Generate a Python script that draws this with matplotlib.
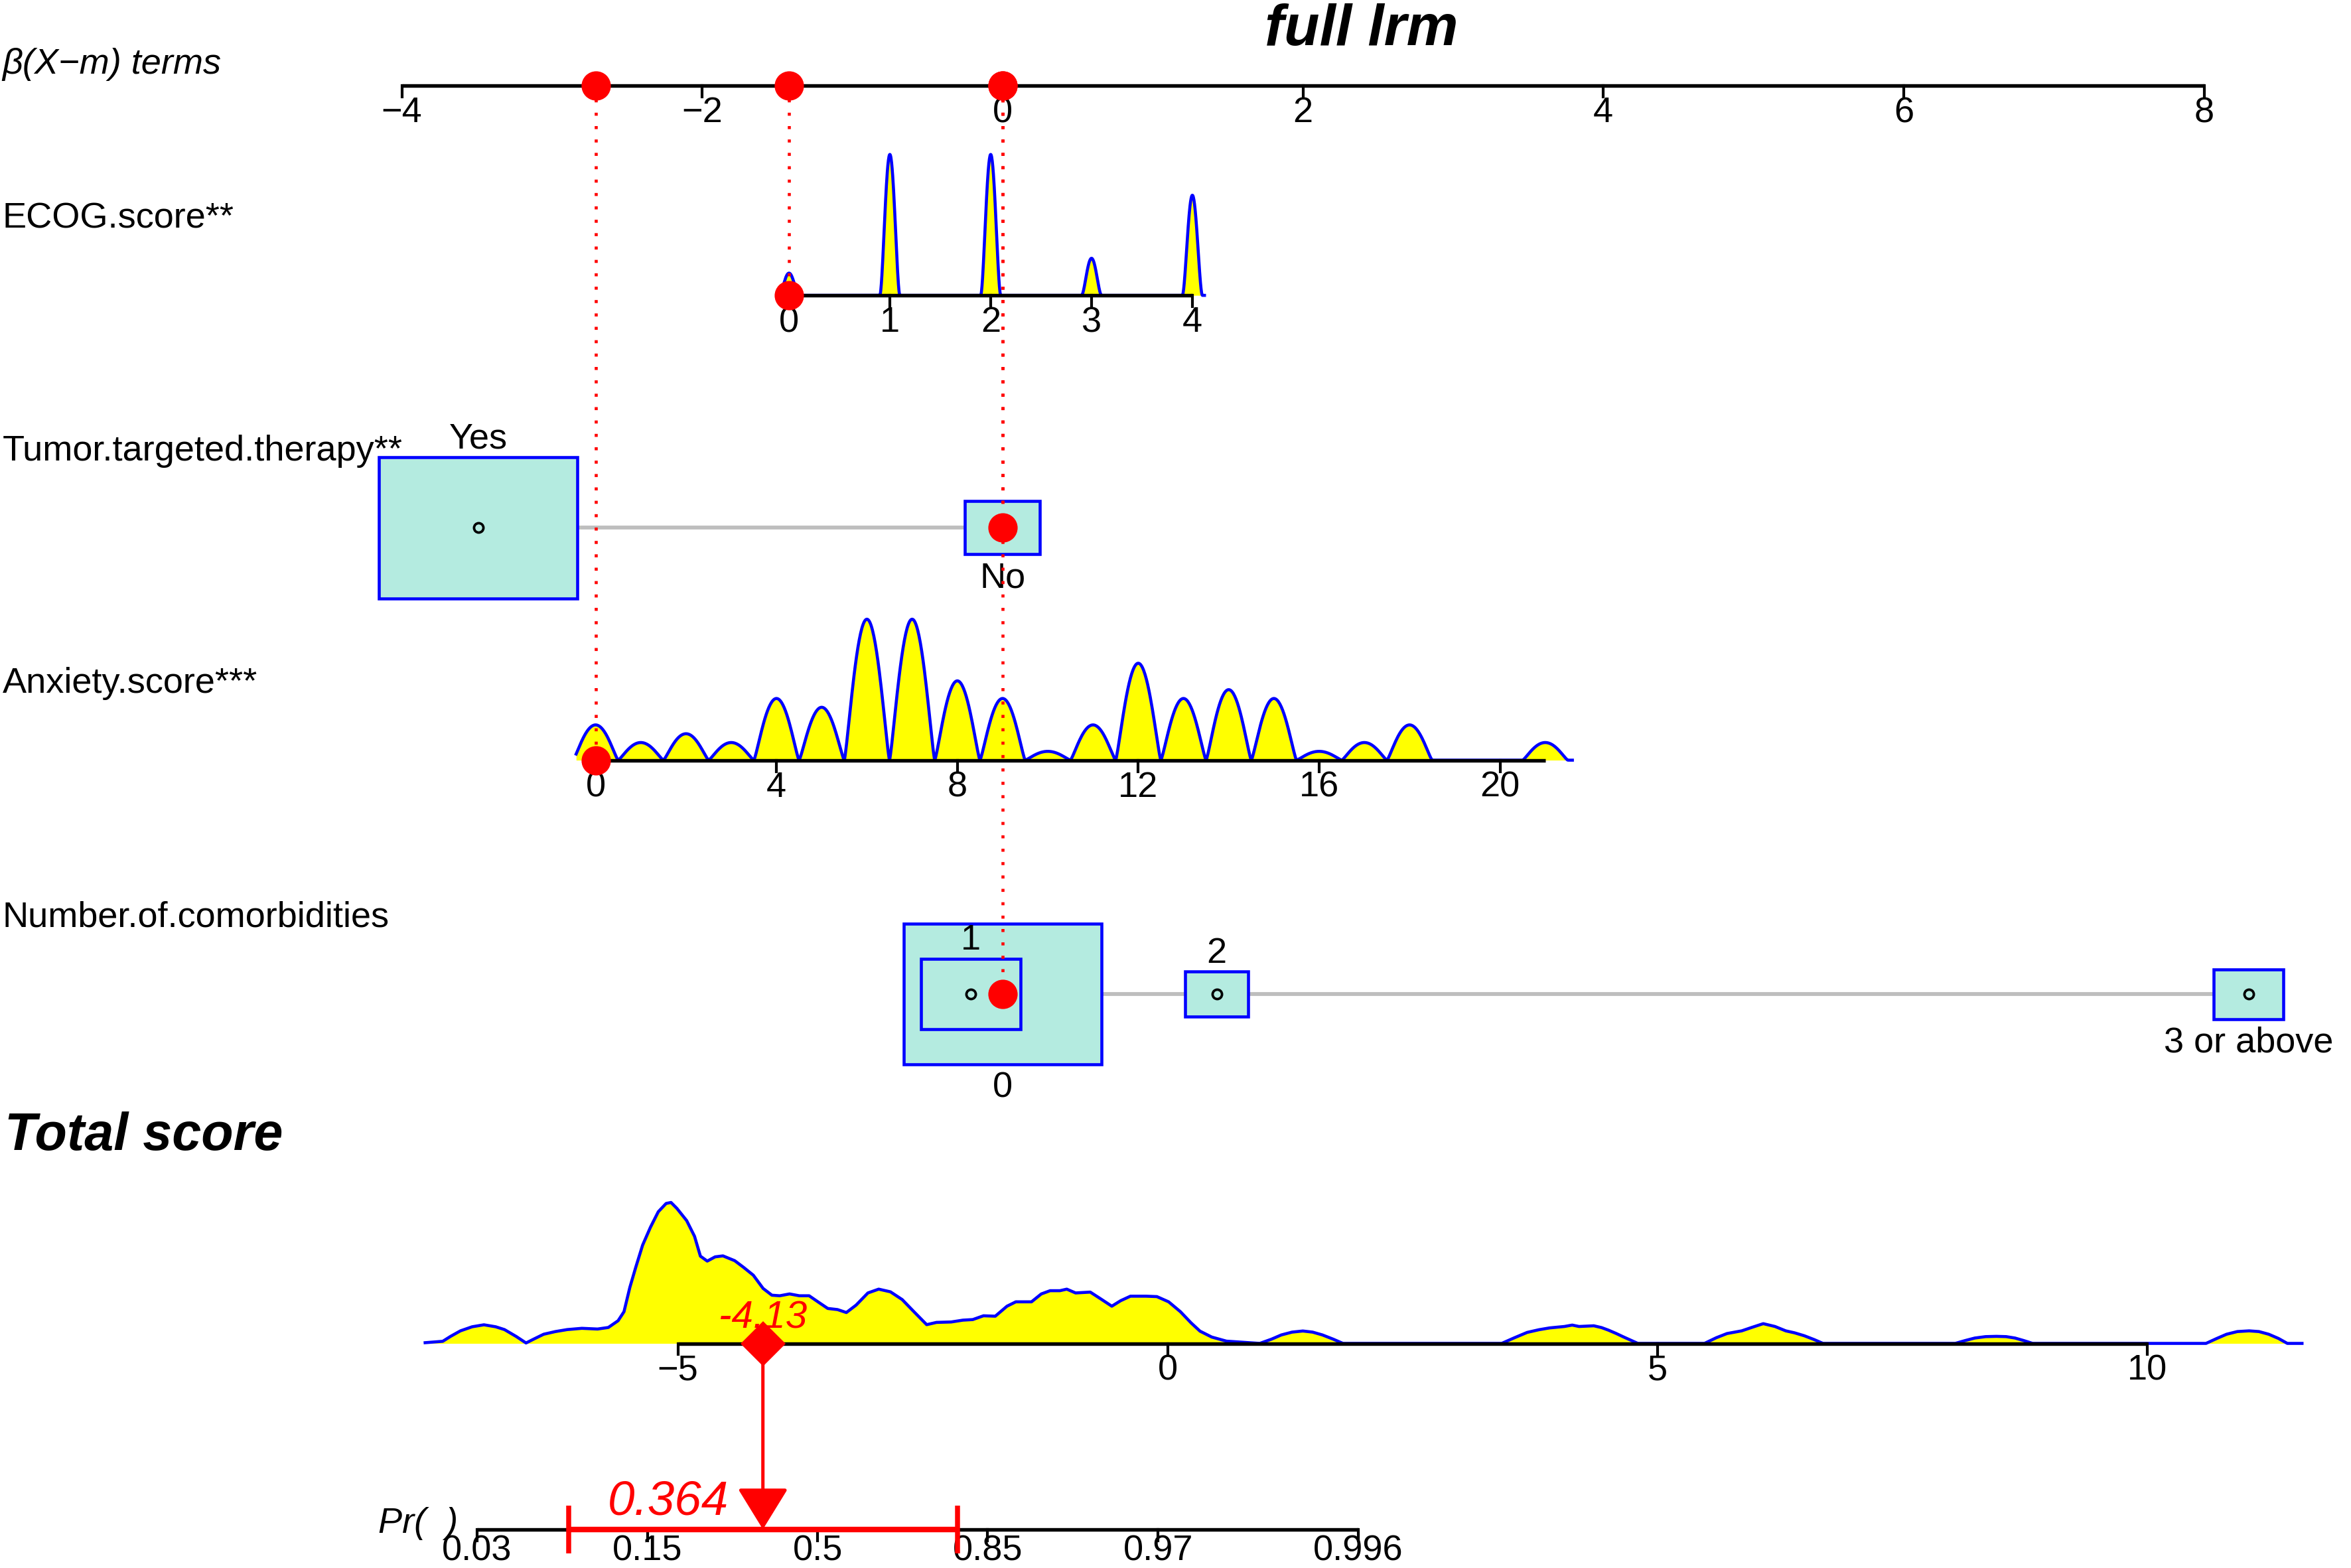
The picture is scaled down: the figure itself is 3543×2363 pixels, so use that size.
import numpy as np
import matplotlib
matplotlib.use("Agg")
import matplotlib.pyplot as plt
from matplotlib.patches import Rectangle
from matplotlib.transforms import blended_transform_factory

plt.rcParams['font.family'] = ['Liberation Sans', 'DejaVu Sans']

beta_ticks = [-4, -2, 0, 2, 4, 6, 8]

# ECOG.score (continua): beta = ecog_b0 + ecog_coef * valor
ecog_values = [0, 1, 2, 3, 4]
ecog_counts = [6, 38, 38, 10, 27]
ecog_b0 = -1.422
ecog_coef = 0.6714
ecog_patient = 0

# Tumor.targeted.therapy (categorica)
tumor_levels = ['Yes', 'No']
tumor_beta = [-3.491, 0.0]
tumor_counts = [105, 15]
tumor_label_pos = ['above', 'below']
tumor_patient = 'No'

# Anxiety.score (continua)
anx_values = list(range(22))
anx_counts = [4, 2, 3, 2, 7, 6, 16, 16, 9, 7, 1, 4, 11, 7, 8, 7, 1, 2, 4, 0, 0, 2]
anx_ticks = [0, 4, 8, 12, 16, 20]
anx_b0 = -2.710
anx_coef = 0.3011
anx_patient = 0

# Number.of.comorbidities (categorica)
comorb_levels = ['0', '1', '2', '3 or above']
comorb_beta = [0.0, -0.211, 1.426, 8.296]
comorb_counts = [80, 20, 8, 10]
comorb_label_pos = ['below', 'above', 'above', 'below']
comorb_patient = '0'

# Total score: densidad (relativa al maximo)
total_ticks = [-5, 0, 5, 10]
total_x = [-7.58, -7.40, -7.32, -7.22, -7.10, -6.98, -6.86, -6.77, -6.65, -6.55,
           -6.47, -6.37, -6.25, -6.13, -5.98, -5.82, -5.71, -5.61, -5.55, -5.49,
           -5.43, -5.36, -5.28, -5.20, -5.12, -5.07, -5.01, -4.91, -4.83, -4.77,
           -4.70, -4.62, -4.54, -4.42, -4.33, -4.23, -4.13, -4.04, -3.96, -3.86,
           -3.76, -3.66, -3.57, -3.47, -3.37, -3.28, -3.18, -3.06, -2.95, -2.83,
           -2.71, -2.60, -2.46, -2.36, -2.21, -2.09, -1.99, -1.88, -1.76, -1.64,
           -1.55, -1.39, -1.29, -1.20, -1.10, -1.03, -0.94, -0.79, -0.69, -0.57,
           -0.48, -0.38, -0.22, -0.11, 0.01, 0.13, 0.24, 0.33, 0.45, 0.60, 0.94,
           1.06, 1.16, 1.27, 1.38, 1.48, 1.58, 1.69, 1.79,
           3.41, 3.54, 3.67, 3.79, 3.90, 4.05, 4.13, 4.20, 4.35, 4.43, 4.50, 4.58,
           4.65, 4.73, 4.80,
           5.48, 5.60, 5.71, 5.86, 5.97, 6.08, 6.20, 6.31, 6.40, 6.50, 6.60, 6.69,
           8.04, 8.14, 8.24, 8.35, 8.46, 8.56, 8.65, 8.74, 8.83,
           10.60, 10.71, 10.81, 10.92, 11.04, 11.14, 11.24, 11.34, 11.43, 11.58]
total_dens = [0.005, 0.015, 0.05, 0.089, 0.118, 0.132, 0.118, 0.098, 0.049, 0.003,
              0.031, 0.065, 0.084, 0.098, 0.107, 0.102, 0.113, 0.161, 0.225, 0.398,
              0.540, 0.697, 0.824, 0.934, 0.993, 1.0, 0.958, 0.871, 0.760, 0.619,
              0.584, 0.614, 0.621, 0.587, 0.540, 0.484, 0.390, 0.342, 0.338, 0.351,
              0.338, 0.338, 0.295, 0.248, 0.240, 0.219, 0.272, 0.358, 0.385, 0.366,
              0.311, 0.232, 0.133, 0.149, 0.152, 0.165, 0.169, 0.196, 0.193, 0.264,
              0.295, 0.295, 0.351, 0.374, 0.374, 0.385, 0.358, 0.364, 0.319, 0.264,
              0.303, 0.335, 0.335, 0.332, 0.295, 0.225, 0.145, 0.087, 0.045, 0.016, 0.0,
              0.03, 0.06, 0.08, 0.088, 0.08, 0.06, 0.03, 0.0,
              0.0, 0.04, 0.078, 0.097, 0.11, 0.12, 0.13, 0.12, 0.125, 0.112, 0.094, 0.07,
              0.047, 0.022, 0.0,
              0.0, 0.04, 0.07, 0.089, 0.115, 0.14, 0.12, 0.089, 0.075, 0.054, 0.027, 0.0,
              0.0, 0.02, 0.038, 0.048, 0.05, 0.048, 0.038, 0.02, 0.0,
              0.0, 0.035, 0.065, 0.084, 0.089, 0.084, 0.065, 0.035, 0.0, 0.0]

# escala de probabilidad: logit(p) = total + intercepto
intercept = 3.574
se_logit = 1.013
pr_ticks = [0.03, 0.15, 0.5, 0.85, 0.97, 0.996]
pr_labels = ['0.03', '0.15', '0.5', '0.85', '0.97', '0.996']

# ---- disposicion (en pixeles de una imagen de 1568 x 1046) ----
Y_BETA, Y_ECOG, Y_TUMOR, Y_ANX, Y_COMORB, Y_TOTAL, Y_PR = 57, 197, 352, 507, 663, 896, 1020
H_DENS = 94
BOX_W, BOX_H = 1.32, 94
TICK = 7.5
FS = 13

YELLOW, BLUE, RED, TEAL, GRAY = '#FFFF00', '#0000FF', '#FF0000', '#B4EBE0', '#BEBEBE'

fig = plt.figure(figsize=(3543 / 300, 2363 / 300), dpi=300)
ax = fig.add_axes([0, 0, 1, 1])
ax.set_xlim(-6.6755, 8.978)
ax.set_ylim(1045.8, 0)
ax.set_axis_off()

ax2 = fig.add_axes([0, 0, 1, 1])
ax2.set_xlim(-11.92, 12.08)
ax2.set_ylim(1045.8, 0)
ax2.set_axis_off()


def minus(v):
    return f"{v:g}".replace('-', '\u2212')


def eje(a, xs, labels, y, x0, x1, off=24.5):
    a.plot([x0, x1], [y, y], color='black', lw=1.3, solid_capstyle='butt', zorder=5)
    for x, lab in zip(xs, labels):
        a.plot([x, x], [y, y + TICK], color='black', lw=1.0, zorder=5)
        a.text(x, y + off, lab, ha='center', va='baseline', fontsize=FS, zorder=5)


def densidad(values, counts, half, lo, hi, p):
    g = np.linspace(lo, hi, 1500)
    d = np.zeros_like(g)
    for v, c in zip(values, counts):
        u = (g - v) / half
        d += c * np.clip(1 - u ** 2, 0, None) ** p
    return g, d / d.max()


def fila_continua(values, counts, half, lo, hi, p, b0, coef, y, ticks):
    g, d = densidad(values, counts, half, lo, hi, p)
    xb = b0 + coef * g
    ax.fill_between(xb, y, y - d * H_DENS, color=YELLOW, lw=0, zorder=2)
    ax.plot(xb, y - d * H_DENS, color=BLUE, lw=1.1, zorder=3)
    eje(ax, [b0 + coef * t for t in ticks], [str(t) for t in ticks], y,
        b0 + coef * min(values), b0 + coef * max(values))


def fila_categorica(levels, betas, counts, pos, y):
    ax.plot([min(betas), max(betas)], [y, y], color=GRAY, lw=1.4, zorder=1)
    orden = np.argsort(counts)[::-1]
    cmax = max(counts)
    for k, i in enumerate(orden):
        s = np.sqrt(counts[i] / cmax)
        w, h = BOX_W * s, BOX_H * s
        ax.add_patch(Rectangle((betas[i] - w / 2, y - h / 2), w, h, facecolor=TEAL,
                               edgecolor=BLUE, lw=1.1, zorder=2 + k * 0.1))
        ax.plot(betas[i], y, 'o', ms=3.4, mfc='none', mec='black', mew=0.9, zorder=3)
        if pos[i] == 'above':
            ax.text(betas[i], y - h / 2 - 6, levels[i], ha='center', va='baseline', fontsize=FS)
        else:
            ax.text(betas[i], y + h / 2 + 22, levels[i], ha='center', va='baseline', fontsize=FS)


# eje beta
eje(ax, beta_ticks, [minus(t) for t in beta_ticks], Y_BETA, beta_ticks[0], beta_ticks[-1])

fila_continua(ecog_values, ecog_counts, 0.1, -0.12, 4.12, 2, ecog_b0, ecog_coef, Y_ECOG, ecog_values)
fila_categorica(tumor_levels, tumor_beta, tumor_counts, tumor_label_pos, Y_TUMOR)
fila_continua(anx_values, anx_counts, 0.5, -0.43, 21.6, 1.3, anx_b0, anx_coef, Y_ANX, anx_ticks)
fila_categorica(comorb_levels, comorb_beta, comorb_counts, comorb_label_pos, Y_COMORB)

# puntos del paciente
b_ecog = ecog_b0 + ecog_coef * ecog_patient
b_tumor = tumor_beta[tumor_levels.index(tumor_patient)]
b_anx = anx_b0 + anx_coef * anx_patient
b_comorb = comorb_beta[comorb_levels.index(comorb_patient)]
for b, y in [(b_ecog, Y_ECOG), (b_tumor, Y_TUMOR), (b_anx, Y_ANX), (b_comorb, Y_COMORB)]:
    ax.plot([b, b], [Y_BETA, y], color=RED, lw=1.1, linestyle=(0, (1, 3.4)), zorder=4)
    ax.plot(b, Y_BETA, 'o', color=RED, ms=9.6, zorder=6)
    ax.plot(b, y, 'o', color=RED, ms=9.6, zorder=6)

# etiquetas de la izquierda
tl = blended_transform_factory(ax.transAxes, ax.transData)
ax.text(0.001, Y_BETA - 8, '\u03b2(X\u2212m) terms', transform=tl, fontsize=FS,
        style='italic', va='baseline')
for nombre, y in [('ECOG.score**', Y_ECOG), ('Tumor.targeted.therapy**', Y_TUMOR),
                  ('Anxiety.score***', Y_ANX), ('Number.of.comorbidities', Y_COMORB)]:
    ax.text(0.001, y - 45, nombre, transform=tl, fontsize=FS, va='baseline')
ax.text(0.002, 767, 'Total score', transform=tl, fontsize=19, weight='bold',
        style='italic', va='baseline')
fig.text(908 / 1568, 1 - 30 / 1045.8, 'full lrm', fontsize=21, weight='bold',
         style='italic', ha='center', va='baseline')

# Total score
tx = np.array(total_x)
td = np.array(total_dens)
ax2.fill_between(tx, Y_TOTAL, Y_TOTAL - td * H_DENS, color=YELLOW, lw=0, zorder=2)
ax2.plot(tx, Y_TOTAL - td * H_DENS, color=BLUE, lw=1.1, zorder=3)
eje(ax2, total_ticks, [minus(t) for t in total_ticks], Y_TOTAL, total_ticks[0], total_ticks[-1])

total = b_ecog + b_tumor + b_anx + b_comorb
prob = 1 / (1 + np.exp(-(total + intercept)))

# eje de probabilidad
pr_pos = [np.log(p / (1 - p)) - intercept for p in pr_ticks]
eje(ax2, pr_pos, pr_labels, Y_PR, pr_pos[0], pr_pos[-1], off=20.5)
ax2.annotate('Pr(  )', xy=(pr_pos[0], Y_PR), xytext=(-7, 2), textcoords='offset points',
             ha='right', va='center', fontsize=FS, style='italic')

# intervalo de confianza
ci = 1.96 * se_logit
ax2.errorbar([total], [Y_PR], xerr=[[ci], [ci]], fmt='none', ecolor=RED, elinewidth=2.0,
             capsize=8.7, capthick=1.8, zorder=7)

ax2.annotate('', xy=(total, Y_PR), xytext=(total, Y_TOTAL),
             arrowprops=dict(arrowstyle='-|>,head_length=1.3,head_width=0.8', color=RED,
                             lw=1.2, shrinkA=0, shrinkB=0, mutation_scale=10), zorder=7)
ax2.plot(total, Y_TOTAL, 'D', color=RED, ms=10.6, zorder=8)
ax2.text(total, Y_TOTAL - 10, f"{total:.2f}", color=RED, fontsize=14, style='italic',
         ha='center', va='baseline', zorder=6)
ax2.text(total - 0.35, Y_PR - 10, f"{prob:.3f}", color=RED, fontsize=17.5, style='italic',
         ha='right', va='baseline', zorder=8)

fig.savefig('out.png', dpi=300)
